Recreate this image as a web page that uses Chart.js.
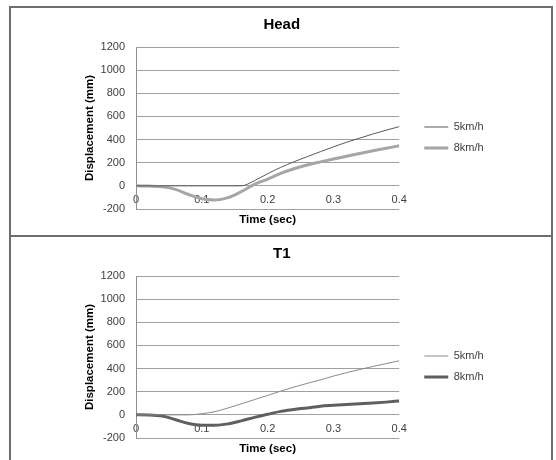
<!DOCTYPE html>
<html>
<head>
<meta charset="utf-8">
<script src="https://cdn.jsdelivr.net/npm/chart.js@4/dist/chart.umd.min.js"></script>
<style>
  body { margin: 0; background: #fff; }
  .box { position: absolute; left: 9px; width: 540px; border: 2px solid #6e6e6e; }
  #box1 { top: 6px; height: 227px; }
  #box2 { top: 237px; height: 226px; border-top: none; }
  canvas { display: block; }
</style>
</head>
<body>
<div class="box" id="box1"><canvas id="chartHead" width="540" height="226"></canvas></div>
<div class="box" id="box2"><canvas id="chartT1" width="540" height="226"></canvas></div>
<script>
// time samples (sec)
const times = [0, 0.02, 0.04, 0.06, 0.08, 0.10, 0.12, 0.14, 0.16, 0.18, 0.20,
  0.22, 0.24, 0.26, 0.28, 0.30, 0.32, 0.34, 0.36, 0.38, 0.40];
const seriesNames = ["5km/h", "8km/h"];

// displacement (mm)
const headSlow = [0, 0, 0, 0, 0, 0, 0, 0, 0, 45, 105, 160, 208, 252, 295, 337, 377, 413, 448, 481, 512];
const headFast = [0, -2, -8, -30, -75, -112, -122, -102, -50, 12, 58, 108, 148, 180, 207, 232, 256, 280, 303, 325, 346];
const t1Slow = [0, 0, 0, 0, 0, 10, 28, 60, 95, 132, 168, 205, 240, 272, 302, 335, 365, 392, 418, 443, 467];
const t1Fast = [0, -1, -10, -42, -75, -90, -90, -78, -52, -22, 5, 30, 47, 60, 75, 83, 90, 96, 102, 110, 120];

const yMin = -200, yMax = 1200, yStep = 200;
const xMin = 0, xMax = 0.4, xStep = 0.1;

Chart.defaults.font.family = "'Liberation Sans', Arial, sans-serif";
Chart.defaults.color = "#404040";

// nudge the legend down a little and give its text room
const legendShift = {
  id: "legendShift",
  afterLayout(chart) {
    const lg = chart.legend;
    lg.top += 9.5;
    lg.bottom += 9.5;
    lg.right += 20;
    lg.width += 20;
  },
};

function toPoints(vals) {
  return vals.map((v, i) => ({ x: times[i], y: v }));
}

function makeChart(canvasId, title, slow, fast, slowColor, fastColor) {
  new Chart(document.getElementById(canvasId), {
    type: "line",
    data: {
      datasets: [
        {
          label: seriesNames[0],
          data: toPoints(slow),
          borderColor: slowColor,
          backgroundColor: slowColor,
          borderWidth: 1,
          pointRadius: 0,
          cubicInterpolationMode: "monotone",
        },
        {
          label: seriesNames[1],
          data: toPoints(fast),
          borderColor: fastColor,
          backgroundColor: fastColor,
          borderWidth: 3,
          pointRadius: 0,
          cubicInterpolationMode: "monotone",
        },
      ],
    },
    options: {
      responsive: false,
      animation: false,
      layout: { padding: { left: 72, right: 70.5, top: 0, bottom: 25 } },
      plugins: {
        title: {
          display: true,
          text: title,
          color: "#000",
          font: { size: 15, weight: "bold" },
          padding: { top: 7.5, bottom: 13.5 },
        },
        legend: {
          position: "right",
          fullSize: false,
          labels: {
            usePointStyle: true,
            pointStyle: "line",
            pointStyleWidth: 24,
            padding: 10,
            font: { size: 11 },
            color: "#404040",
          },
        },
        tooltip: { enabled: false },
      },
      scales: {
        x: {
          type: "linear",
          position: { y: 0 },
          min: xMin,
          max: xMax,
          grid: { display: false, drawTicks: false },
          border: { display: false },
          ticks: { stepSize: xStep, padding: 7.4, font: { size: 11 }, maxRotation: 0 },
          title: {
            display: true,
            text: "Time (sec)",
            color: "#000",
            font: { size: 11.5, weight: "bold" },
            padding: { top: 0, bottom: -15.9 },
          },
          afterFit(scale) { scale.height = 25; },
        },
        y: {
          min: yMin,
          max: yMax,
          grid: { color: "#a0a0a0", drawTicks: false },
          border: { display: true, color: "#909090" },
          ticks: {
            stepSize: yStep,
            padding: 11,
            font: { size: 11 },
            format: { useGrouping: false },
          },
          title: {
            display: true,
            text: "Displacement (mm)",
            color: "#000",
            font: { size: 11.5, weight: "bold" },
            padding: 0,
          },
          afterFit(scale) { scale.width = 53; },
        },
        gap: {
          position: "right",
          grid: { display: false },
          border: { display: false },
          ticks: { display: false },
          afterFit(scale) { scale.width = 15; },
        },
      },
    },
    plugins: [legendShift],
  });
}

makeChart("chartHead", "Head", headSlow, headFast, "#5a5a5a", "#a6a6a6");
makeChart("chartT1", "T1", t1Slow, t1Fast, "#8a8a8a", "#5f5f5f");
</script>
</body>
</html>
